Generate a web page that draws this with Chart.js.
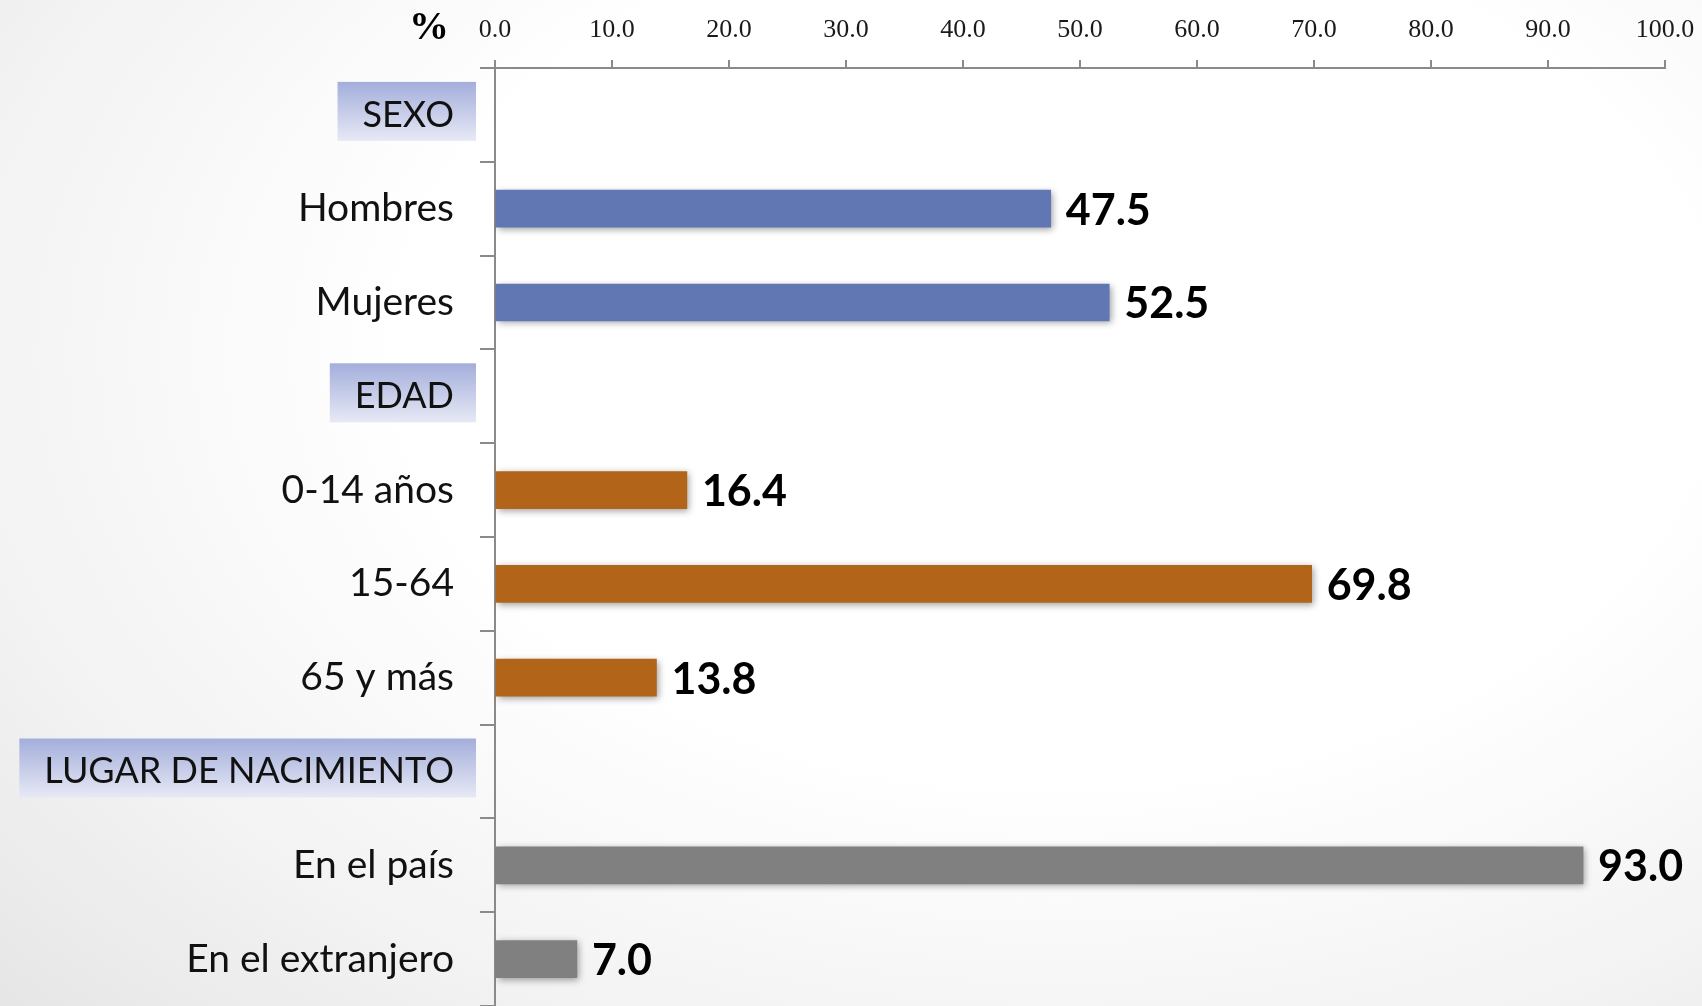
<!DOCTYPE html>
<html>
<head>
<meta charset="utf-8">
<script src="https://cdn.jsdelivr.net/npm/chart.js@4"></script>
<style>
  html, body { margin: 0; padding: 0; }
  body {
    width: 1702px; height: 1006px; overflow: hidden;
    background: radial-gradient(ellipse 85% 95% at 62% 35%, #ffffff 45%, #f3f3f3 75%, #e6e6e6 100%);
  }
  canvas { display: block; }
</style>
</head>
<body>
<canvas id="c" width="1702" height="1006"></canvas>
<script>
// ---- data ----
const categories = ['SEXO', 'Hombres', 'Mujeres', 'EDAD', '0-14 años', '15-64', '65 y más',
                    'LUGAR DE NACIMIENTO', 'En el país', 'En el extranjero'];
const values = [null, 47.5, 52.5, null, 16.4, 69.8, 13.8, null, 93.0, 7.0];
const headers = ['SEXO', 'EDAD', 'LUGAR DE NACIMIENTO'];
const groupOf = ['sexo', 'sexo', 'sexo', 'edad', 'edad', 'edad', 'edad', 'lugar', 'lugar', 'lugar'];
const unitLabel = '%';
const xMin = 0, xMax = 100, xStep = 10;

// ---- styles ----
const groupColors = { sexo: '#6177B4', edad: '#B26418', lugar: '#808080' };
const axisColor = '#8a8a8a';
const labelFont = 'Lato, "Open Sans", sans-serif';
const headerSize = 36, catSize = 39;

const decorPlugin = {
  id: 'decor',
  beforeDraw(chart) {
    const ctx = chart.ctx;
    const y = chart.scales.y;
    const pad = y.options.ticks.padding + y.options.grid.tickLength;
    const rightText = y.right - pad;
    ctx.save();
    ctx.font = headerSize + 'px ' + labelFont;
    categories.forEach((c, i) => {
      if (!headers.includes(c)) return;
      const cy = y.getPixelForValue(i);
      const w = ctx.measureText(c).width;
      const x0 = rightText - w - 25;
      const x1 = rightText + 22;
      const y0 = cy - 33, y1 = cy + 26;
      const g = ctx.createLinearGradient(0, y0, 0, y1);
      g.addColorStop(0, '#A3AEDB');
      g.addColorStop(1, '#E7E9F5');
      ctx.fillStyle = g;
      ctx.fillRect(x0, y0, x1 - x0, y1 - y0);
    });
    ctx.restore();
  },
  beforeDatasetsDraw(chart) {
    const ctx = chart.ctx;
    ctx.save();
    ctx.shadowColor = 'rgba(0,0,0,0.38)';
    ctx.shadowBlur = 7;
    ctx.shadowOffsetX = 2;
    ctx.shadowOffsetY = 2;
  },
  afterDatasetsDraw(chart) {
    const ctx = chart.ctx;
    ctx.restore();
    ctx.save();
    ctx.font = 'bold 43px ' + labelFont;
    ctx.fillStyle = '#000';
    ctx.textAlign = 'left';
    ctx.textBaseline = 'middle';
    const meta = chart.getDatasetMeta(0);
    meta.data.forEach((bar, i) => {
      const v = values[i];
      if (v === null) return;
      ctx.fillText(v.toFixed(1), bar.x + 15, bar.y + 2);
    });
    // unit label
    const x = chart.scales.x;
    ctx.font = 'bold 40px "Liberation Serif", serif';
    ctx.textAlign = 'center';
    ctx.textBaseline = 'middle';
    ctx.fillText(unitLabel, x.left - 66, 29);
    ctx.restore();
  }
};

new Chart(document.getElementById('c'), {
  type: 'bar',
  data: {
    labels: categories,
    datasets: [{
      data: values,
      backgroundColor: groupOf.map(g => groupColors[g]),
      barThickness: 37,
      borderWidth: 0
    }]
  },
  options: {
    indexAxis: 'y',
    responsive: false,
    animation: false,
    devicePixelRatio: 1,
    layout: { padding: { left: 0, right: 37, top: 0, bottom: 0 } },
    plugins: { legend: { display: false }, tooltip: { enabled: false } },
    scales: {
      x: {
        position: 'top',
        min: xMin, max: xMax,
        ticks: {
          stepSize: xStep,
          callback: v => Number(v).toFixed(1),
          font: { family: '"Liberation Serif", serif', size: 26 },
          color: '#1a1a1a',
          padding: 14,
          maxRotation: 0
        },
        grid: { drawOnChartArea: false, drawTicks: true, tickLength: 8, color: axisColor, lineWidth: 2 },
        border: { display: true, color: axisColor, width: 2 },
        afterFit(s) { s.height = 68; s.paddingLeft = 0; s.paddingRight = 0; }
      },
      y: {
        ticks: {
          font: (c) => ({ family: labelFont,
                          size: (c.tick && headers.includes(categories[c.index])) ? headerSize : catSize }),
          color: '#111',
          padding: 26,
          autoSkip: false
        },
        grid: { offset: true, drawOnChartArea: false, drawTicks: true, tickLength: 15, color: axisColor, lineWidth: 2 },
        border: { display: true, color: axisColor, width: 2 },
        afterFit(s) { s.width = 495; s.paddingTop = 0; s.paddingBottom = 0; }
      }
    }
  },
  plugins: [decorPlugin]
});
</script>
</body>
</html>
